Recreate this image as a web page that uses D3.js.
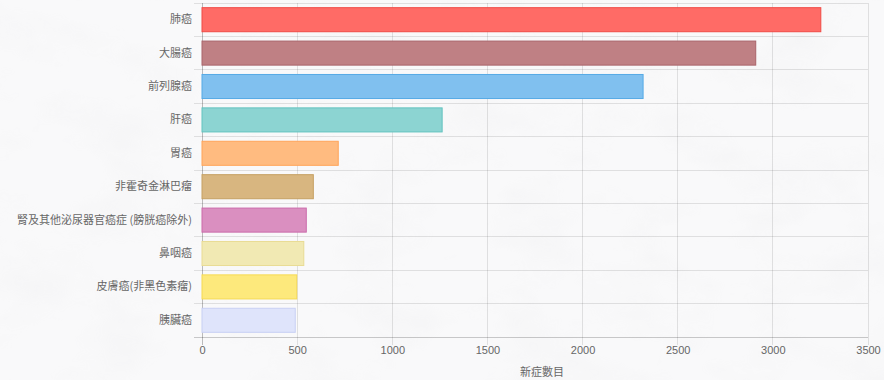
<!DOCTYPE html>
<html>
<head>
<meta charset="utf-8">
<script src="https://cdn.jsdelivr.net/npm/d3@7/dist/d3.min.js"></script>
<style>
  html, body { margin: 0; padding: 0; background: #f7f7f8; }
  svg { display: block; }
  text { font-family: "Helvetica Neue", Helvetica, Arial, "Liberation Sans", "Noto Sans CJK TC", sans-serif; }
</style>
</head>
<body>
<svg id="chart" width="884" height="380"></svg>
<script>
const categories = ["肺癌", "大腸癌", "前列腺癌", "肝癌", "胃癌", "非霍奇金淋巴瘤", "腎及其他泌尿器官癌症 (膀胱癌除外)", "鼻咽癌", "皮膚癌(非黑色素瘤)", "胰臟癌"];
const values = [3252, 2910, 2318, 1262, 716, 585, 548, 535, 498, 490];
const fillColors = ["#ff6b66", "#bf8084", "#80c0ef", "#8cd4d2", "#ffbb80", "#d8b680", "#da8fc0", "#f1e9b3", "#fde97c", "#dfe4fb"];
const strokeColors = ["#f04a45", "#a9646a", "#55aae6", "#62c3bf", "#ffa459", "#c6a062", "#cb6aaa", "#e9dc94", "#f6da52", "#c8d0f4"];
const xTicks = [0, 500, 1000, 1500, 2000, 2500, 3000, 3500];
const xTitle = "新症數目";

const svg = d3.select("#chart");
const W = 884, H = 380;
const margin = { left: 202, right: 16, top: 3, bottom: 43 };

// subtle marble-like background
const defs = svg.append("defs");
const filt = defs.append("filter").attr("id", "marble").attr("x", 0).attr("y", 0).attr("width", "100%").attr("height", "100%");
filt.append("feTurbulence").attr("type", "fractalNoise").attr("baseFrequency", "0.012 0.02").attr("numOctaves", 4).attr("seed", 7).attr("result", "n");
filt.append("feColorMatrix").attr("in", "n").attr("type", "matrix")
  .attr("values", "0 0 0 0 0.55  0 0 0 0 0.55  0 0 0 0 0.58  -0.9 -0.9 0 0 0.95");
svg.append("rect").attr("width", W).attr("height", H).attr("fill", "#f9f9fa");
svg.append("rect").attr("width", W).attr("height", H).attr("filter", "url(#marble)").attr("opacity", 0.12);

const x = d3.scaleLinear().domain([0, 3500]).range([margin.left, W - margin.right]);
const y = d3.scaleBand().domain(categories).range([margin.top, H - margin.bottom]).paddingInner(0.28).paddingOuter(0.14);
const band = d3.scaleBand().domain(categories).range([margin.top, H - margin.bottom]);

const grid = svg.append("g");
// vertical gridlines
grid.selectAll("line.v").data(xTicks).join("line")
  .attr("x1", d => x(d)).attr("x2", d => x(d))
  .attr("y1", margin.top).attr("y2", H - margin.bottom + 8)
  .attr("stroke", d => d === 0 ? "rgba(0,0,0,0.25)" : "rgba(0,0,0,0.1)")
  .attr("stroke-width", 1).attr("shape-rendering", "crispEdges");
// horizontal gridlines at band boundaries
const bounds = categories.map(c => band(c)).concat([band.range()[1]]);
grid.selectAll("line.h").data(bounds).join("line")
  .attr("x1", margin.left - 8).attr("x2", x(3500))
  .attr("y1", d => d).attr("y2", d => d)
  .attr("stroke", (d, i) => i === bounds.length - 1 ? "rgba(0,0,0,0.2)" : "rgba(0,0,0,0.1)")
  .attr("shape-rendering", "crispEdges");

// bars
svg.append("g").selectAll("rect").data(categories).join("rect")
  .attr("x", x(0))
  .attr("y", c => y(c))
  .attr("width", (c, i) => x(values[i]) - x(0))
  .attr("height", y.bandwidth())
  .attr("fill", (c, i) => fillColors[i])
  .attr("stroke", (c, i) => strokeColors[i])
  .attr("stroke-width", 1);

// y axis labels
const yAxis = d3.axisLeft(band).tickSize(0).tickPadding(10);
const gy = svg.append("g").attr("transform", `translate(${margin.left},0)`).call(yAxis);
gy.select(".domain").remove();
gy.selectAll("text").attr("font-size", 11).attr("fill", "#666")
  .style("font-family", "\"Noto Sans CJK TC\", \"Helvetica Neue\", Arial, sans-serif");

// x axis labels
const xAxis = d3.axisBottom(x).tickValues(xTicks).tickFormat(d3.format("d")).tickSize(0).tickPadding(9);
const gx = svg.append("g").attr("transform", `translate(0,${H - margin.bottom})`).call(xAxis);
gx.select(".domain").remove();
gx.selectAll("text").attr("font-size", 11).attr("fill", "#666");

// x title
svg.append("text").attr("x", (x(0) + x(3500)) / 2 + 7).attr("y", 376)
  .attr("text-anchor", "middle").attr("font-size", 11).attr("fill", "#666")
  .style("font-family", "\"Noto Sans CJK TC\", sans-serif")
  .text(xTitle);
</script>
</body>
</html>
